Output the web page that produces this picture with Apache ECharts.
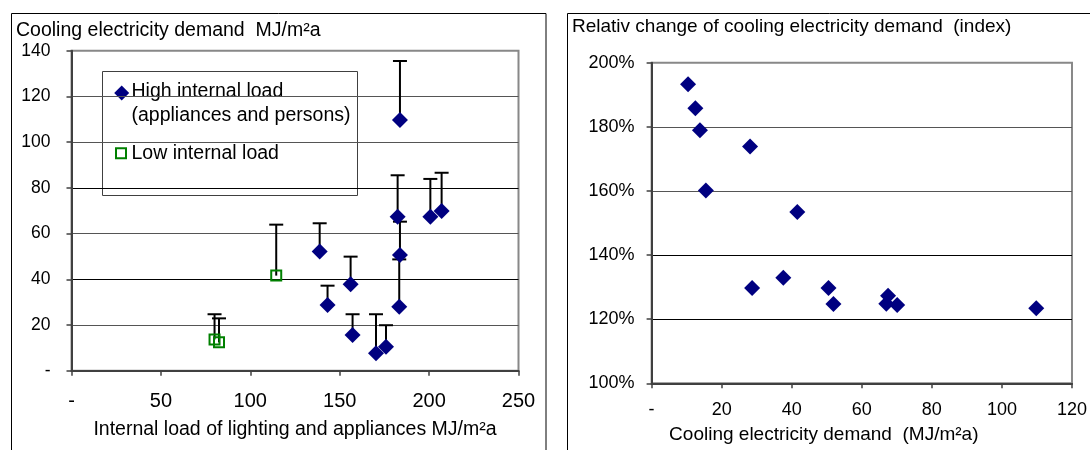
<!DOCTYPE html>
<html>
<head>
<meta charset="utf-8">
<script src="https://cdn.jsdelivr.net/npm/echarts@6/dist/echarts.min.js"></script>
<style>
html,body{margin:0;padding:0;background:#fff;}
#c{width:1090px;height:450px;}
</style>
</head>
<body>
<div id="c"></div>
<script>
// ---- Left chart: internal load (x) vs cooling electricity demand (y), error bar top ----
const highX   = [183.7, 182.4, 200.7, 207.0, 138.8, 183.7, 183.3, 156.1, 143.2, 157.2, 170.3, 175.9];
const highY   = [109.7, 67.4, 67.4, 69.9, 52.1, 50.6, 28.0, 37.8, 28.7, 15.6, 7.6, 10.5];
const highTop = [135.5, 85.5, 83.9, 86.6, 64.5, 65.2, 48.7, 49.9, 37.2, 24.7, 24.7, 19.9];

const lowX   = [80.0, 82.5, 114.5];
const lowY   = [13.7, 12.4, 41.6];
const lowTop = [24.7, 22.9, 63.9];

// ---- Right chart: cooling demand (x) vs relative change (%) ----
const relX = [10.4, 12.5, 13.8, 15.5, 28.1, 41.6, 28.7, 37.6, 50.5, 51.9, 67.5, 67.0, 70.1, 109.8];
const relY = [193.3, 185.8, 178.9, 160.1, 173.9, 153.4, 129.7, 132.9, 129.7, 124.7, 127.3, 124.8, 124.4, 123.4];

const leftXTicks  = {min: 0, max: 250, interval: 50};
const leftYTicks  = {min: 0, max: 140, interval: 20};
const rightXTicks = {min: 0, max: 120, interval: 20};
const rightYTicks = {min: 100, max: 200, interval: 20};

const FONT = 'Liberation Sans, Arial, sans-serif';
const NAVY = '#000080';
const GREEN = '#008000';

function zip3(a, b, c) { return a.map((v, i) => [v, b[i], c[i]]); }
function zip2(a, b) { return a.map((v, i) => [v, b[i]]); }

function errRender(params, api) {
  const p = api.coord([api.value(0), api.value(1)]);
  const t = api.coord([api.value(0), api.value(2)]);
  return {
    type: 'group',
    children: [
      {type: 'line', shape: {x1: p[0], y1: p[1], x2: t[0], y2: t[1]}, style: {stroke: '#000', lineWidth: 2}},
      {type: 'line', shape: {x1: t[0] - 7, y1: t[1], x2: t[0] + 7, y2: t[1]}, style: {stroke: '#000', lineWidth: 2}}
    ]
  };
}

const dashZero = v => (v === 0 ? '-' : String(v));

const axisLineStyle = {show: true, onZero: false, lineStyle: {color: '#404040', width: 2}};
const axisTickStyle = {show: true, length: 5, lineStyle: {color: '#404040', width: 1.5}};

const chart = echarts.init(document.getElementById('c'), null, {renderer: 'canvas'});
chart.setOption({
  animation: false,
  backgroundColor: '#fff',
  textStyle: {fontFamily: FONT},
  title: [
    {text: 'Cooling electricity demand  MJ/m\u00B2a', left: 16, top: 21, padding: 0,
     textStyle: {fontSize: 19.5, fontWeight: 'normal', color: '#000', fontFamily: FONT}},
    {text: 'Relativ change of cooling electricity demand  (index)', left: 572, top: 17, padding: 0,
     textStyle: {fontSize: 19, fontWeight: 'normal', color: '#000', fontFamily: FONT}}
  ],
  grid: [
    {left: 71.5, top: 50.7, width: 447, height: 320, show: true, borderColor: '#888', borderWidth: 2, backgroundColor: '#fff'},
    {left: 651.6, top: 62.7, width: 424.4, height: 320.6, show: true, borderColor: '#888', borderWidth: 2, backgroundColor: '#fff'}
  ],
  xAxis: [
    {gridIndex: 0, type: 'value', ...leftXTicks,
     axisLine: axisLineStyle, axisTick: axisTickStyle, splitLine: {show: false},
     axisLabel: {fontSize: 20, margin: 21, color: '#000', fontFamily: FONT, formatter: dashZero},
     name: 'Internal load of lighting and appliances MJ/m\u00B2a', nameLocation: 'middle', nameGap: 49,
     nameTextStyle: {fontSize: 19.5, color: '#000', fontFamily: FONT}},
    {gridIndex: 1, type: 'value', ...rightXTicks,
     axisLine: axisLineStyle, axisTick: axisTickStyle, splitLine: {show: false},
     axisLabel: {fontSize: 18, margin: 18, color: '#000', fontFamily: FONT, formatter: dashZero},
     name: 'Cooling electricity demand  (MJ/m\u00B2a)', nameLocation: 'middle', nameGap: 42,
     nameTextStyle: {fontSize: 19, color: '#000', fontFamily: FONT, padding: [0, 76, 0, 0]}}
  ],
  yAxis: [
    {gridIndex: 0, type: 'value', ...leftYTicks,
     axisLine: axisLineStyle, axisTick: axisTickStyle,
     splitLine: {show: true, lineStyle: {width: 1, color: ['#000', '#555', '#000', '#555', '#000', '#555', '#555', '#888']}},
     axisLabel: {fontSize: 17.5, margin: 21, color: '#000', fontFamily: FONT, formatter: dashZero}},
    {gridIndex: 1, type: 'value', ...rightYTicks,
     axisLine: axisLineStyle, axisTick: axisTickStyle,
     splitLine: {show: true, lineStyle: {width: 1, color: ['#000', '#000', '#000', '#555', '#555', '#888']}},
     axisLabel: {fontSize: 18, margin: 17, color: '#000', fontFamily: FONT, formatter: v => v + '%'}}
  ],
  series: [
    {type: 'custom', name: 'errHigh', xAxisIndex: 0, yAxisIndex: 0, z: 1,
     renderItem: errRender, encode: {x: 0, y: 1}, data: zip3(highX, highY, highTop)},
    {type: 'custom', name: 'errLow', xAxisIndex: 0, yAxisIndex: 0, z: 1,
     renderItem: errRender, encode: {x: 0, y: 1}, data: zip3(lowX, lowY, lowTop)},
    {type: 'scatter', name: 'High internal load', xAxisIndex: 0, yAxisIndex: 0, z: 3,
     symbol: 'diamond', symbolSize: [16, 16], itemStyle: {color: NAVY, opacity: 1},
     data: zip2(highX, highY)},
    {type: 'scatter', name: 'Low internal load', xAxisIndex: 0, yAxisIndex: 0, z: 3,
     symbol: 'rect', symbolSize: [10, 10],
     itemStyle: {color: 'rgba(0,0,0,0)', borderColor: GREEN, borderWidth: 2, opacity: 1},
     data: zip2(lowX, lowY)},
    {type: 'scatter', name: 'Relative change', xAxisIndex: 1, yAxisIndex: 1, z: 3,
     symbol: 'diamond', symbolSize: [16, 16], itemStyle: {color: NAVY, opacity: 1},
     data: zip2(relX, relY)}
  ],
  graphic: [
    // panel frames
    {type: 'rect', z: 0, silent: true, shape: {x: 11.5, y: 13.5, width: 534.5, height: 500},
     style: {fill: 'none', stroke: '#000', lineWidth: 1}},
    {type: 'rect', z: 0, silent: true, shape: {x: 567.5, y: 13.5, width: 600, height: 500},
     style: {fill: 'none', stroke: '#000', lineWidth: 1}},
    // legend box
    {type: 'group', z: 100, children: [
      {type: 'rect', shape: {x: 102.5, y: 71.5, width: 255, height: 124},
       style: {fill: '#fff', stroke: '#404040', lineWidth: 1}},
      {type: 'polygon', shape: {points: [[114.2, 93], [121.7, 85.5], [129.2, 93], [121.7, 100.5]]},
       style: {fill: NAVY}},
      {type: 'text', x: 131.5, y: 92, style: {text: 'High internal load', fontSize: 19.5, fontFamily: FONT,
       fill: '#000', verticalAlign: 'middle', align: 'left'}},
      {type: 'text', x: 131.5, y: 115.5, style: {text: '(appliances and persons)', fontSize: 19.5, fontFamily: FONT,
       fill: '#000', verticalAlign: 'middle', align: 'left'}},
      {type: 'rect', shape: {x: 116, y: 148.3, width: 10, height: 10},
       style: {fill: 'none', stroke: GREEN, lineWidth: 2}},
      {type: 'text', x: 131.5, y: 154, style: {text: 'Low internal load', fontSize: 19.5, fontFamily: FONT,
       fill: '#000', verticalAlign: 'middle', align: 'left'}}
    ]}
  ]
});
</script>
</body>
</html>
